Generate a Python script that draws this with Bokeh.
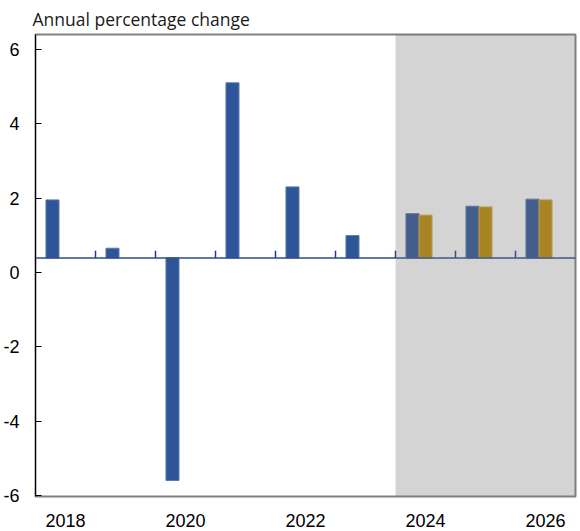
from bokeh.plotting import figure
from bokeh.models import Span, BoxAnnotation, FixedTicker, Range1d, PrintfTickFormatter
from bokeh.transform import dodge
from bokeh.embed import file_html
from bokeh.resources import INLINE

# Data
hist_years = [2018, 2019, 2020, 2021, 2022, 2023]
hist_values = [1.95, 0.65, -5.6, 5.1, 2.3, 0.99]
proj_years = [2024, 2025, 2026]
proj_current = [1.58, 1.78, 1.97]
proj_previous = [1.54, 1.76, 1.95]
all_years = hist_years + proj_years
baseline = 0.39
y_ticks = [-6, -4, -2, 0, 2, 4, 6]
x_ticks = [2018, 2020, 2022, 2024, 2026]
shade_start = 2023.5
title_text = "Annual percentage change"

BLUE = "#2E5597"
GOLD = "#BF8D02"

p = figure(frame_width=540, frame_height=462, output_backend="svg",
           toolbar_location=None, min_border_left=34, min_border_top=29,
           min_border_right=2, min_border_bottom=0,
           x_range=Range1d(all_years[0] - 0.5, all_years[-1] + 0.5),
           y_range=Range1d(-6.03, 6.4))

p.title.text = title_text
p.title.text_font = "Open Sans"
p.title.text_font_size = "17.5px"
p.title.text_font_style = "normal"
p.title.text_color = "#1a1a1a"
p.title.align = "left"
p.title.standoff = 8
p.title.offset = -3

p.xgrid.visible = False
p.ygrid.visible = False
p.outline_line_color = "#808080"
p.outline_line_width = 2

bw = 0.217
p.vbar(x=dodge("x", -0.217, range=p.x_range), top="top", bottom=baseline, width=bw,
       source=dict(x=hist_years, top=hist_values),
       fill_color=BLUE, line_color="#5a7ab0", line_width=1)
p.vbar(x=dodge("x", -0.217, range=p.x_range), top="top", bottom=baseline, width=bw,
       source=dict(x=proj_years, top=proj_current),
       fill_color=BLUE, line_color="#5a7ab0", line_width=1)
p.vbar(x=dodge("x", 0.0, range=p.x_range), top="top", bottom=baseline, width=bw,
       source=dict(x=proj_years, top=proj_previous),
       fill_color=GOLD, line_color="#d0aa40", line_width=1)

# category boundary ticks on the baseline
bounds = [y + 0.5 for y in all_years[:-1]]
p.segment(x0=bounds, x1=bounds, y0=[baseline] * len(bounds),
          y1=[baseline + 0.19] * len(bounds), line_color="#1F3C80", line_width=1.5)

p.add_layout(Span(location=baseline, dimension="width", line_color="#2B4A8C",
                  line_width=1.5))

p.add_layout(BoxAnnotation(left=shade_start, right=all_years[-1] + 0.5,
                           fill_color="#737173", fill_alpha=0.3, line_alpha=0,
                           level="overlay"))

p.yaxis.ticker = FixedTicker(ticks=y_ticks)
p.yaxis.formatter = PrintfTickFormatter(format="%d")
p.yaxis.major_tick_in = 6
p.yaxis.major_tick_out = 0
p.yaxis.minor_tick_line_color = None
p.yaxis.axis_line_color = "black"
p.yaxis.major_tick_line_color = "black"
p.yaxis.major_label_text_font = "Liberation Sans"
p.yaxis.major_label_text_font_size = "18px"
p.yaxis.major_label_text_color = "black"
p.yaxis.major_label_standoff = 16

p.xaxis.ticker = FixedTicker(ticks=x_ticks)
p.xaxis.axis_line_color = None
p.xaxis.major_tick_line_color = None
p.xaxis.minor_tick_line_color = None
p.xaxis.major_tick_out = 0
p.xaxis.major_tick_in = 0
p.xaxis.major_label_text_font = "Liberation Sans"
p.xaxis.major_label_text_font_size = "18px"
p.xaxis.major_label_text_color = "black"
p.xaxis.major_label_standoff = 17

open("out.html", "w").write(file_html(p, INLINE))
